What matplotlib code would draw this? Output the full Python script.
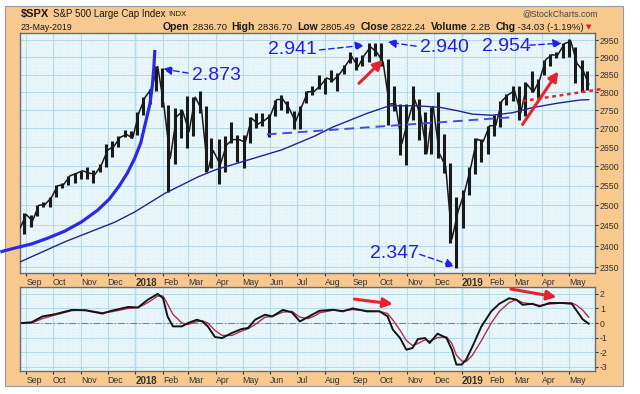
import pandas as pd
import matplotlib
matplotlib.use("Agg")
import matplotlib.pyplot as plt
import matplotlib.dates as mdates
from matplotlib.patches import Rectangle
from matplotlib.ticker import FixedLocator, NullFormatter

plt.rcParams["font.family"] = ["Liberation Sans", "DejaVu Sans"]

# --- weekly S&P 500 bars (week ending) ---
week_end = ["2017-08-25", "2017-09-01", "2017-09-08", "2017-09-15", "2017-09-22", "2017-09-29",
            "2017-10-06", "2017-10-13", "2017-10-20", "2017-10-27", "2017-11-03", "2017-11-10",
            "2017-11-17", "2017-11-24", "2017-12-01", "2017-12-08", "2017-12-15", "2017-12-22",
            "2017-12-29", "2018-01-05", "2018-01-12", "2018-01-19", "2018-01-26", "2018-02-02",
            "2018-02-09", "2018-02-16", "2018-02-23", "2018-03-02", "2018-03-09", "2018-03-16",
            "2018-03-23", "2018-03-29", "2018-04-06", "2018-04-13", "2018-04-20", "2018-04-27",
            "2018-05-04", "2018-05-11", "2018-05-18", "2018-05-25", "2018-06-01", "2018-06-08",
            "2018-06-15", "2018-06-22", "2018-06-29", "2018-07-06", "2018-07-13", "2018-07-20",
            "2018-07-27", "2018-08-03", "2018-08-10", "2018-08-17", "2018-08-24", "2018-08-31",
            "2018-09-07", "2018-09-14", "2018-09-21", "2018-09-28", "2018-10-05", "2018-10-12",
            "2018-10-19", "2018-10-26", "2018-11-02", "2018-11-09", "2018-11-16", "2018-11-23",
            "2018-11-30", "2018-12-07", "2018-12-14", "2018-12-21", "2018-12-28", "2019-01-04",
            "2019-01-11", "2019-01-18", "2019-01-25", "2019-02-01", "2019-02-08", "2019-02-15",
            "2019-02-22", "2019-03-01", "2019-03-08", "2019-03-15", "2019-03-22", "2019-03-29",
            "2019-04-05", "2019-04-12", "2019-04-18", "2019-04-26", "2019-05-03", "2019-05-10",
            "2019-05-17", "2019-05-23"]
highs = [2450, 2480, 2475, 2500, 2508, 2520, 2552, 2557, 2575, 2582, 2588, 2597, 2590, 2605,
         2657, 2665, 2680, 2695, 2693, 2744, 2787, 2810, 2873, 2870, 2763, 2755, 2754, 2790,
         2786, 2802, 2762, 2675, 2672, 2680, 2717, 2683, 2682, 2732, 2742, 2742, 2739, 2779,
         2791, 2775, 2747, 2762, 2802, 2816, 2848, 2841, 2864, 2853, 2876, 2916, 2900, 2906,
         2941, 2940, 2940, 2895, 2817, 2767, 2767, 2816, 2781, 2746, 2760, 2800, 2685, 2607,
         2520, 2538, 2597, 2675, 2671, 2708, 2738, 2776, 2794, 2816, 2816, 2830, 2860, 2836,
         2893, 2910, 2916, 2940, 2954, 2931, 2892, 2860]
lows = [2417, 2428, 2446, 2474, 2496, 2496, 2520, 2543, 2551, 2557, 2566, 2566, 2557, 2584,
        2598, 2624, 2650, 2676, 2673, 2683, 2736, 2768, 2803, 2759, 2533, 2605, 2675, 2647,
        2681, 2741, 2585, 2594, 2553, 2586, 2660, 2612, 2594, 2662, 2701, 2707, 2676, 2734,
        2750, 2742, 2698, 2698, 2770, 2791, 2808, 2796, 2830, 2803, 2852, 2884, 2864, 2874,
        2885, 2903, 2874, 2710, 2749, 2628, 2603, 2722, 2670, 2631, 2631, 2621, 2583, 2408,
        2347, 2444, 2525, 2580, 2612, 2631, 2681, 2704, 2764, 2775, 2722, 2735, 2800, 2785,
        2849, 2873, 2898, 2897, 2900, 2825, 2800, 2805]
closes = [2443, 2477, 2461, 2500, 2502, 2519, 2549, 2553, 2575, 2581, 2588, 2582, 2579, 2603,
          2642, 2652, 2676, 2684, 2674, 2743, 2786, 2810, 2873, 2762, 2620, 2732, 2747, 2691,
          2786, 2752, 2588, 2641, 2604, 2656, 2670, 2670, 2663, 2728, 2712, 2721, 2735, 2779,
          2780, 2755, 2718, 2760, 2801, 2802, 2819, 2840, 2833, 2850, 2875, 2902, 2872, 2905,
          2930, 2914, 2886, 2767, 2768, 2659, 2723, 2781, 2736, 2633, 2760, 2633, 2600, 2417,
          2486, 2532, 2596, 2671, 2665, 2707, 2708, 2776, 2793, 2804, 2743, 2822, 2800, 2834,
          2893, 2907, 2905, 2940, 2946, 2881, 2860, 2822]

# 200-day moving average
ma_dates = ["2017-08-25", "2017-10-14", "2017-12-09", "2017-12-31", "2018-02-03", "2018-03-12",
            "2018-03-31", "2018-05-07", "2018-06-14", "2018-07-21", "2018-08-10", "2018-09-17",
            "2018-10-12", "2018-11-12", "2018-12-07", "2018-12-26", "2019-01-13", "2019-02-04",
            "2019-02-27", "2019-03-21", "2019-04-20", "2019-05-13", "2019-05-23"]
ma200 = [2362, 2410, 2458, 2483, 2530, 2572, 2590, 2616, 2643, 2680, 2704, 2741,
         2762, 2762, 2758, 2749, 2739, 2736, 2743, 2757, 2770, 2778, 2779]

# lower panel oscillator (black) and its signal line (red)
osc_dates = ["2017-08-27", "2017-09-07", "2017-09-19", "2017-10-03", "2017-10-22", "2017-11-06",
             "2017-11-25", "2017-12-06", "2017-12-24", "2018-01-04", "2018-01-15", "2018-01-26",
             "2018-02-01", "2018-02-06", "2018-02-12", "2018-02-22", "2018-03-01", "2018-03-11",
             "2018-03-17", "2018-03-23", "2018-03-31", "2018-04-08", "2018-04-19", "2018-04-30",
             "2018-05-07", "2018-05-15", "2018-05-26", "2018-06-03", "2018-06-15", "2018-06-25",
             "2018-07-04", "2018-07-13", "2018-07-21", "2018-07-26", "2018-08-10", "2018-08-21",
             "2018-09-01", "2018-09-17", "2018-10-01", "2018-10-10", "2018-10-16", "2018-10-24",
             "2018-10-31", "2018-11-07", "2018-11-13", "2018-11-21", "2018-11-26", "2018-12-05",
             "2018-12-15", "2018-12-21", "2018-12-26", "2019-01-01", "2019-01-06", "2019-01-13",
             "2019-01-23", "2019-02-03", "2019-02-12", "2019-02-23", "2019-03-03", "2019-03-10",
             "2019-03-21", "2019-03-29", "2019-04-09", "2019-04-24", "2019-05-04", "2019-05-10",
             "2019-05-16", "2019-05-23"]
osc = [0.0, 0.05, 0.45, 0.6, 0.9, 0.87, 0.65, 0.85, 1.1, 1.07, 1.6, 2.0,
       1.7, 0.45, -0.23, -0.23, 0.0, 0.23, 0.1, -0.23, -0.96, -1.03, -0.68, -0.41,
       -0.34, 0.23, 0.57, 0.45, 0.9, 0.73, 0.11, 0.41, 0.68, 0.84, 0.91, 0.8,
       1.0, 0.8, 0.8, 0.46, -0.46, -1.03, -1.83, -1.71, -1.1, -1.03, -1.37, -0.73,
       -1.03, -1.83, -2.85, -2.85, -2.5, -1.6, -0.23, 0.8, 1.32, 1.7, 1.6, 1.25,
       1.32, 1.14, 1.37, 1.37, 1.32, 0.8, 0.27, -0.05]
signal = [0.0, 0.0, 0.3, 0.55, 0.85, 0.9, 0.7, 0.78, 1.0, 1.05, 1.4, 1.85,
          1.85, 1.3, 0.6, 0.0, -0.1, 0.1, 0.15, 0.0, -0.5, -0.85, -0.85, -0.55,
          -0.4, -0.1, 0.4, 0.45, 0.75, 0.8, 0.4, 0.3, 0.5, 0.7, 0.88, 0.85,
          0.92, 0.85, 0.8, 0.65, 0.2, -0.5, -1.2, -1.55, -1.4, -1.15, -1.25, -1.0,
          -0.95, -1.4, -2.2, -2.6, -2.65, -2.2, -1.2, 0.0, 0.8, 1.4, 1.6, 1.4,
          1.3, 1.2, 1.3, 1.38, 1.38, 1.2, 0.9, 0.4]

# hand drawn parabolic curve
curve_dates = ["2017-08-03 00:00", "2017-08-19 00:00", "2017-09-07 00:00", "2017-09-25 00:00",
               "2017-10-14 00:00", "2017-11-02 00:00", "2017-11-20 00:00", "2017-12-03 00:00",
               "2017-12-14 00:00", "2017-12-23 00:00", "2017-12-31 00:00", "2018-01-07 00:00",
               "2018-01-12 00:00", "2018-01-17 06:00", "2018-01-20 01:00", "2018-01-21 17:00",
               "2018-01-22 19:00"]
curve_vals = [2386, 2395, 2405, 2419, 2436, 2459, 2488, 2516, 2549, 2582, 2619, 2661,
              2712, 2767, 2820, 2871, 2921]

# trend lines
blue_trend_dates = ["2018-05-28", "2019-03-01"]
blue_trend_vals = [2684, 2731]
red_trend_dates = ["2019-03-10", "2019-06-07"]
red_trend_vals = [2775, 2809]

d = pd.to_datetime
wk = d(week_end)

BLUE = "#1f1fe6"
RED = "#e8222a"
W, H = 640, 394

fig = plt.figure(figsize=(6.4, 3.94), dpi=100, facecolor="white")
fig.patches.append(Rectangle((5 / W, 1 - 386 / H), 618 / W, 380 / H, transform=fig.transFigure,
                             facecolor="#f8c98e", edgecolor="#9a9a9a", lw=0.8, zorder=-5))

ax = fig.add_axes([20 / W, 1 - 273 / H, 575 / W, 240 / H])
ax2 = fig.add_axes([20 / W, 1 - 371 / H, 575 / W, 84 / H])

month_ticks = pd.date_range("2017-09-01", "2019-05-01", freq="MS")
month_lbls = [m.strftime("%Y") if m.month == 1 else m.strftime("%b") for m in month_ticks]
xmin, xmax = d("2017-08-25"), d("2019-05-30")

for a in (ax, ax2):
    a.set_facecolor("#eaf7fa")
    a.set_xlim(xmin, xmax)
    a.yaxis.tick_right()
    a.set_xticks(month_ticks)
    a.set_xticklabels(month_lbls, ha="left")
    a.xaxis.set_minor_locator(mdates.WeekdayLocator(byweekday=mdates.MO))
    a.grid(True, which="major", color="#b6dbe8", lw=0.8)
    a.grid(True, which="minor", color="#d6edf3", lw=0.5, ls=":")
    a.tick_params(axis="both", which="major", labelsize=6.3, length=2, pad=1.5, colors="#333333")
    a.tick_params(axis="x", which="minor", length=0)
    for lbl in a.get_xticklabels():
        if lbl.get_text().isdigit():
            lbl.set_fontweight("bold")
            lbl.set_fontsize(7)
    for s in a.spines.values():
        s.set_color("#5f6f80")
        s.set_linewidth(1.0)
    a.set_axisbelow(True)
for m in ["2018-01-01", "2019-01-01"]:
    ax.axvline(d(m), color="#8cc0dc", lw=1.0, zorder=0.5)
    ax2.axvline(d(m), color="#8cc0dc", lw=1.0, zorder=0.5)

# --- main panel ---
ax.set_yscale("log")
ax.set_ylim(2336, 2971)
yt = list(range(2350, 2951, 50))
ax.yaxis.set_major_locator(FixedLocator(yt))
ax.set_yticklabels([str(v) for v in yt])
ax.yaxis.set_minor_locator(FixedLocator(list(range(2340, 2970, 10))))
ax.yaxis.set_minor_formatter(NullFormatter())
ax.tick_params(axis="y", which="minor", length=0)

# price: weekly high-low bars with the closes joined
ax.vlines(wk - pd.Timedelta(days=2), lows, highs, color="#1a1a1a", lw=2.2, zorder=3)
ax.plot(wk, closes, color="#1a1a1a", lw=1.1, zorder=3)
ax.plot(d(ma_dates), ma200, color="#24248a", lw=1.0, zorder=4)
ax.plot(d(curve_dates), curve_vals, color="#2a2ae6", lw=2.3, zorder=5, clip_on=False,
        solid_capstyle="butt", solid_joinstyle="round")
ax.plot(d(blue_trend_dates), blue_trend_vals, color="#4848e8", lw=1.4, ls=(0, (5, 3)), zorder=5)
ax.plot(d(red_trend_dates), red_trend_vals, color=RED, lw=1.8, ls=(0, (1.5, 1.5)), zorder=5,
        clip_on=False)


def blue_label(txt, xy_txt, ha, tail, head):
    ax.text(d(xy_txt[0]), xy_txt[1], txt, color=BLUE, fontsize=14, ha=ha, va="center", zorder=6)
    ax.annotate("", xy=(d(head[0]), head[1]), xytext=(d(tail[0]), tail[1]),
                arrowprops=dict(arrowstyle="-|>", color=BLUE, lw=1.0, ls=(0, (4, 2.5)),
                                mutation_scale=13, shrinkA=0, shrinkB=0), zorder=6)


blue_label("2.873", ("2018-03-05", 2848), "left", ("2018-03-01", 2854), ("2018-02-01", 2866))
blue_label("2.941", ("2018-07-23", 2921), "right", ("2018-07-26", 2921), ("2018-09-14", 2935))
blue_label("2.940", ("2018-11-15", 2929), "left", ("2018-11-11", 2932), ("2018-10-10", 2944))
blue_label("2.954", ("2019-01-24", 2932), "left", ("2019-03-18", 2935), ("2019-04-23", 2941))
blue_label("2.347", ("2018-09-20", 2383), "left", ("2018-11-15", 2380), ("2018-12-24", 2352))


def red_arrow(a, tail, head):
    a.annotate("", xy=(d(head[0]), head[1]), xytext=(d(tail[0]), tail[1]),
               arrowprops=dict(arrowstyle="-|>", color=RED, lw=2.2, mutation_scale=14,
                               shrinkA=0, shrinkB=0), zorder=7)


red_arrow(ax, ("2018-09-08", 2825), ("2018-10-05", 2892))
red_arrow(ax, ("2019-03-10", 2711), ("2019-04-19", 2859))

# --- lower panel ---
ax2.set_ylim(-3.29, 2.47)
ax2.set_yticks([-3, -2, -1, 0, 1, 2])
ax2.set_yticklabels(["-3", "-2", "-1", "0", "1", "2"])
ax2.yaxis.set_minor_locator(FixedLocator([v / 5 for v in range(-16, 13)]))
ax2.tick_params(axis="y", which="minor", length=0)
ax2.axhline(0, color="#808080", lw=0.8, ls=(0, (6, 2, 1, 2)), zorder=2)
ax2.plot(d(osc_dates), signal, color="#b0304c", lw=1.0, zorder=3)
ax2.plot(d(osc_dates), osc, color="#141414", lw=1.4, zorder=4)
red_arrow(ax2, ("2018-09-03", 1.64), ("2018-10-16", 1.3))
red_arrow(ax2, ("2019-02-25", 2.33), ("2019-04-17", 1.78))

# --- header ---
fig.text(21 / W, 1 - 14 / H, "$SPX", fontsize=8, fontweight="bold", va="center", color="#1a1a1a")
fig.text(53 / W, 1 - 14 / H, "S&P 500 Large Cap Index", fontsize=7, va="center", color="#1a1a1a")
fig.text(168 / W, 1 - 14 / H, "INDX", fontsize=5.5, va="center", color="#1a1a1a")
fig.text(598 / W, 1 - 14 / H, "@StockCharts.com", fontsize=6.3, ha="right", va="center", color="#444444")
fig.text(21 / W, 1 - 27 / H, "23-May-2019", fontsize=6.3, va="center", color="#1a1a1a")

parts = [("Open", True), (" 2836.70  ", False), ("High", True), (" 2836.70  ", False),
         ("Low", True), (" 2805.49  ", False), ("Close", True), (" 2822.24  ", False),
         ("Volume", True), (" 2.2B  ", False), ("Chg", True), (" -34.03 (-1.19%)", False)]
renderer = fig.canvas.get_renderer()
xpos = 163
for txt, bold in parts:
    t = fig.text(xpos / W, 1 - 27 / H, txt, fontsize=7.5 if bold else 6.8,
                 fontweight="bold" if bold else "normal", va="center", color="#1a1a1a")
    xpos += t.get_window_extent(renderer).width
fig.text((xpos + 2) / W, 1 - 27 / H, "▼", fontsize=5, va="center", color="#d0202a",
         family="DejaVu Sans")

fig.savefig("out.png", dpi=100, facecolor="white")
